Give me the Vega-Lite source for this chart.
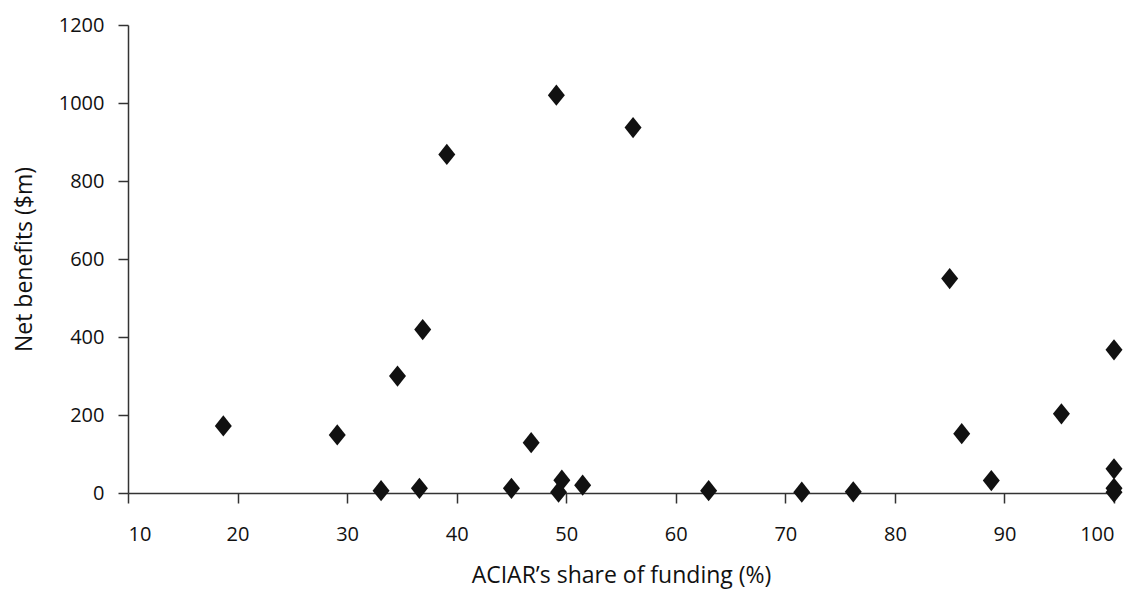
{
  "$schema": "https://vega.github.io/schema/vega-lite/v6.json",
  "autosize": "none",
  "width": 986,
  "height": 468,
  "padding": {"left": 128, "top": 25, "right": 17, "bottom": 101},
  "background": "white",
  "config": {"view": {"stroke": null}},
  "data": {
    "values": [
      {"share": 18.7, "benefit": 172},
      {"share": 29.1, "benefit": 149},
      {"share": 33.1, "benefit": 6},
      {"share": 34.6, "benefit": 300},
      {"share": 36.6, "benefit": 12},
      {"share": 36.9, "benefit": 419},
      {"share": 39.1, "benefit": 868},
      {"share": 45.0, "benefit": 12},
      {"share": 46.8, "benefit": 129},
      {"share": 49.1, "benefit": 1020},
      {"share": 49.3, "benefit": 2},
      {"share": 49.6, "benefit": 33},
      {"share": 51.5, "benefit": 20},
      {"share": 56.1, "benefit": 937},
      {"share": 63.0, "benefit": 6},
      {"share": 71.5, "benefit": 2},
      {"share": 76.2, "benefit": 3},
      {"share": 85.0, "benefit": 550},
      {"share": 86.1, "benefit": 152},
      {"share": 88.8, "benefit": 32},
      {"share": 95.2, "benefit": 203},
      {"share": 100, "benefit": 367},
      {"share": 100, "benefit": 62},
      {"share": 100, "benefit": 12},
      {"share": 100, "benefit": 2}
    ]
  },
  "mark": {
    "type": "point",
    "shape": "M0,-1.25L1,0L0,1.25L-1,0Z",
    "size": 289,
    "filled": true,
    "color": "#111111",
    "opacity": 1,
    "clip": false
  },
  "encoding": {
    "x": {
      "field": "share",
      "type": "quantitative",
      "scale": {"domain": [10, 100], "nice": false, "zero": false},
      "axis": {
        "title": "ACIAR’s share of funding (%)",
        "values": [10, 20, 30, 40, 50, 60, 70, 80, 90, 100],
        "format": "d",
        "grid": false,
        "domainColor": "#333333",
        "domainWidth": 1.5,
        "tickColor": "#333333",
        "tickWidth": 1.5,
        "tickSize": 10,
        "labelPadding": 21,
        "labelFont": "Open Sans",
        "labelFontSize": 20,
        "labelColor": "#111111",
        "titleFont": "Open Sans",
        "titleFontSize": 23,
        "titleFontWeight": "normal",
        "titleColor": "#111111",
        "titlePadding": 20
      }
    },
    "y": {
      "field": "benefit",
      "type": "quantitative",
      "scale": {"domain": [0, 1200], "nice": false},
      "axis": {
        "title": "Net benefits ($m)",
        "values": [0, 200, 400, 600, 800, 1000, 1200],
        "format": "d",
        "grid": false,
        "domainColor": "#333333",
        "domainWidth": 1.5,
        "tickColor": "#333333",
        "tickWidth": 1.5,
        "tickSize": 10,
        "labelPadding": 14,
        "labelFont": "Open Sans",
        "labelFontSize": 20,
        "labelColor": "#111111",
        "titleFont": "Open Sans",
        "titleFontSize": 23,
        "titleFontWeight": "normal",
        "titleColor": "#111111",
        "titlePadding": 22
      }
    }
  }
}
